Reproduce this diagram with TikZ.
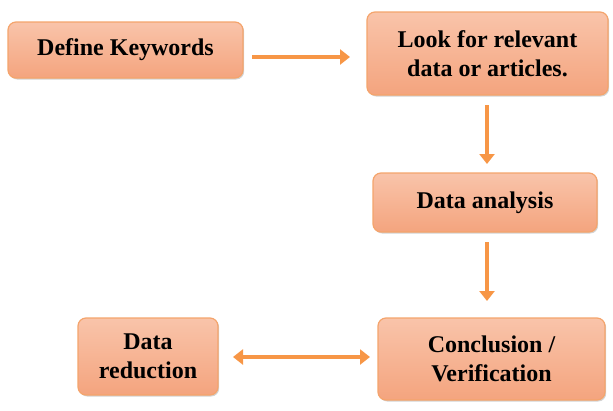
\documentclass[tikz,border=0pt]{standalone}
\usepackage{fontspec}
\setmainfont{Liberation Serif}
\usetikzlibrary{arrows.meta,shadows}
\definecolor{boxtop}{HTML}{F9C4AA}
\definecolor{boxbot}{HTML}{F4A47E}
\definecolor{boxline}{HTML}{F4A46C}
\definecolor{arr}{HTML}{F79646}
\begin{document}
\begin{tikzpicture}[x=1pt,y=-1pt,
  box/.style={draw=boxline,line width=1.2pt,rounded corners=8pt,top color=boxtop,bottom color=boxbot,
    align=center,font=\fontsize{24}{29.5}\selectfont\bfseries,inner sep=0pt,
    drop shadow={shadow xshift=1.2pt,shadow yshift=-1.5pt,opacity=0.35,fill=gray}},
  conn/.style={draw=arr,line width=4.3pt,-{Triangle[length=10pt,width=15pt]}},
  conn2/.style={draw=arr,line width=4.3pt,{Triangle[length=10pt,width=15pt]}-{Triangle[length=10pt,width=15pt]}}]
\useasboundingbox (0,0) rectangle (613,410);
\node[box,minimum width=235pt,minimum height=56pt] (kw) at (125.5,50) {Define Keywords};
\node[box,minimum width=241pt,minimum height=83pt] (look) at (487.5,53.5) {Look for relevant\\data or articles.};
\node[box,minimum width=224pt,minimum height=59pt] (ana) at (485,202.5) {Data analysis};
\node[box,minimum width=227pt,minimum height=82pt] (conc) at (491.5,359) {Conclusion /\\Verification};
\node[box,minimum width=140pt,minimum height=77pt] (red) at (148,356.5) {Data\\reduction};
\coordinate (a1s) at (252,57);
\coordinate (a1e) at (350,57);
\coordinate (a2s) at (487,105);
\coordinate (a2e) at (487,164);
\coordinate (a3s) at (487,242);
\coordinate (a3e) at (487,301);
\coordinate (a4s) at (233,357);
\coordinate (a4e) at (370,357);
\draw[conn] (a1s) -- (a1e);
\draw[conn] (a2s) -- (a2e);
\draw[conn] (a3s) -- (a3e);
\draw[conn2] (a4s) -- (a4e);
\end{tikzpicture}
\end{document}
